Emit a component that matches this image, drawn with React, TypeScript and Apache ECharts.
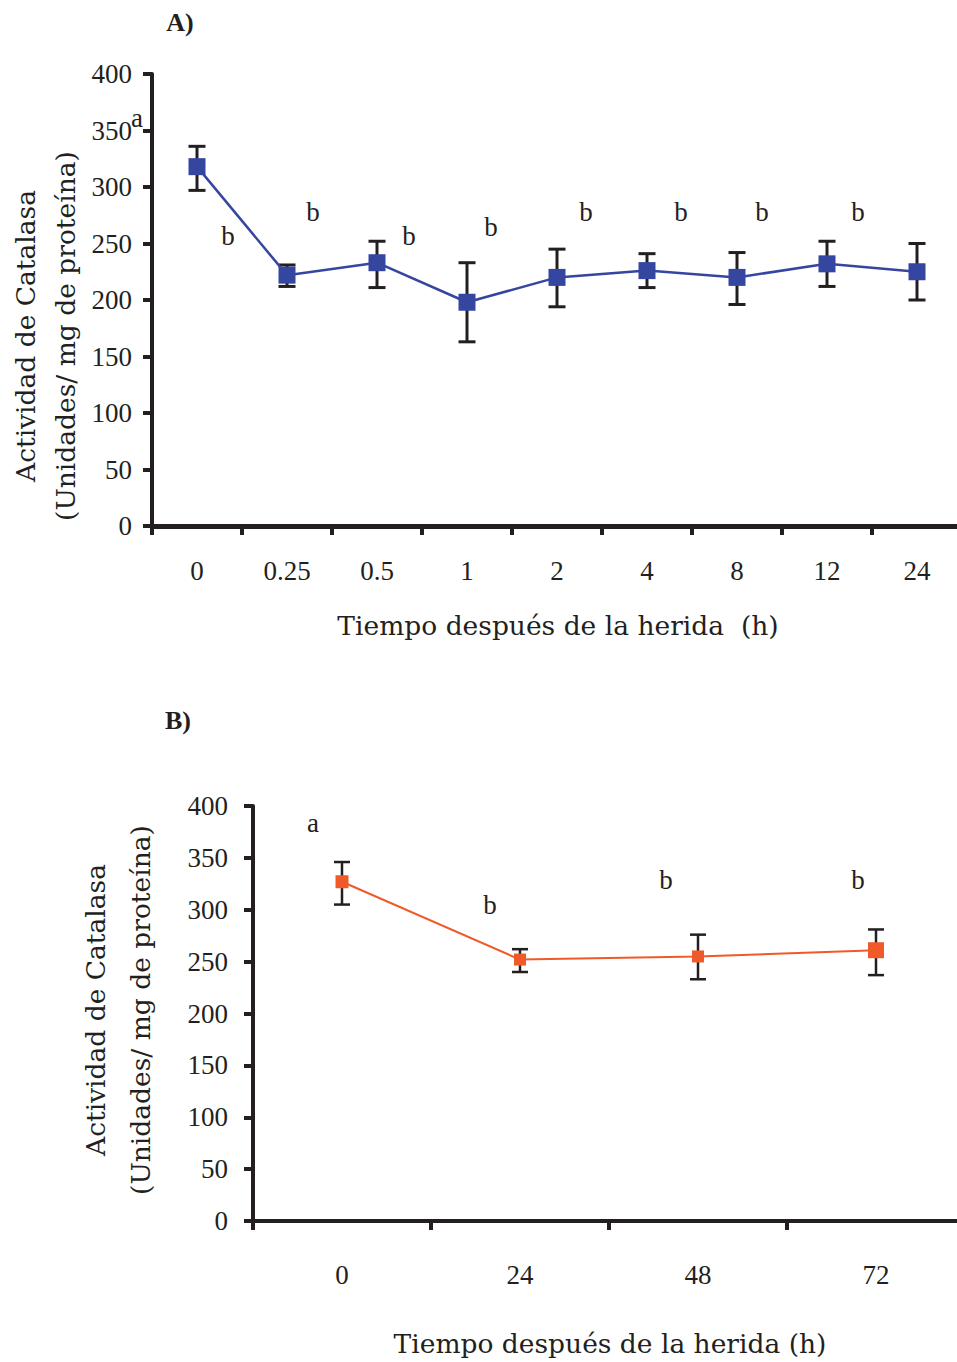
import React, { useEffect, useRef } from "react";
import * as echarts from "echarts";

// Panel A data
const catsA = ["0", "0.25", "0.5", "1", "2", "4", "8", "12", "24"];
const meanA = [318, 222, 233, 198, 220, 226, 220, 232, 225];
const lowA = [297, 212, 211, 163, 194, 211, 196, 212, 200];
const highA = [336, 231, 252, 233, 245, 241, 242, 252, 250];
const lettersA = ["a", "b", "b", "b", "b", "b", "b", "b", "b"];

// Panel B data
const catsB = ["0", "24", "48", "72"];
const meanB = [327, 252, 255, 261];
const lowB = [305, 240, 233, 237];
const highB = [346, 262, 276, 281];
const lettersB = ["a", "b", "b", "b"];

// Layout (pixel positions of annotation letters)
const letterPosA = [[137, 118], [228, 236], [313, 212], [409, 236], [491, 227], [586, 212], [681, 212], [762, 212], [858, 212]];
const letterPosB = [[313, 823], [490, 905], [666, 880], [858, 880]];
const markerSizeB = [13, 12, 12, 16];

const FONT = "'Palatino Linotype', 'Book Antiqua', Palatino, 'Liberation Serif', serif";
const TFONT = "'Palatino Linotype', 'Book Antiqua', Palatino, 'DejaVu Serif', serif";
const INK = "#231f20";
const BLUE = "#3546a0";
const ORANGE = "#f05a28";

function errorSeries(low: number[], high: number[], idx: number, lw: number, hw: number) {
  return {
    type: "custom",
    xAxisIndex: idx,
    yAxisIndex: idx,
    silent: true,
    z: 1,
    data: low.map((l, i) => [i, l, high[i]]),
    encode: { x: 0, y: [1, 2] },
    renderItem: (params: any, api: any) => {
      const x = api.value(0);
      const pLo = api.coord([x, api.value(1)]);
      const pHi = api.coord([x, api.value(2)]);
      const style = { stroke: INK, lineWidth: lw, fill: "none" };
      return {
        type: "group",
        children: [
          { type: "line", shape: { x1: pLo[0], y1: pLo[1], x2: pHi[0], y2: pHi[1] }, style },
          { type: "line", shape: { x1: pLo[0] - hw, y1: pLo[1], x2: pLo[0] + hw, y2: pLo[1] }, style },
          { type: "line", shape: { x1: pHi[0] - hw, y1: pHi[1], x2: pHi[0] + hw, y2: pHi[1] }, style },
        ],
      };
    },
  };
}

function yAxis(idx: number, axisW: number, margin: number) {
  return {
    type: "value",
    gridIndex: idx,
    min: 0,
    max: 400,
    interval: 50,
    splitLine: { show: false },
    axisLine: { show: true, lineStyle: { color: INK, width: axisW } },
    axisTick: { show: true, inside: false, length: 9, lineStyle: { color: INK, width: axisW } },
    axisLabel: { color: INK, fontSize: 27, fontFamily: FONT, margin },
  };
}

function xAxis(idx: number, cats: string[], axisW: number, margin: number) {
  return {
    type: "category",
    gridIndex: idx,
    data: cats,
    boundaryGap: true,
    axisLine: { show: true, onZero: false, lineStyle: { color: INK, width: axisW } },
    axisTick: { show: true, inside: false, alignWithLabel: false, length: 9, lineStyle: { color: INK, width: 4 } },
    axisLabel: { color: INK, fontSize: 27, fontFamily: FONT, margin, interval: 0 },
    splitLine: { show: false },
  };
}

function txt(x: number, y: number, text: string, extra: any = {}) {
  return {
    type: "text",
    x,
    y,
    z: 10,
    style: {
      text,
      fill: INK,
      font: `27px ${FONT}`,
      textAlign: "center",
      textVerticalAlign: "middle",
      ...extra,
    },
  };
}

export default function App() {
  const ref = useRef<HTMLDivElement>(null);
  useEffect(() => {
    document.body.style.margin = "0";
    if (!ref.current) return;
    const chart = echarts.init(ref.current, null, { renderer: "svg" });
    const graphics: any[] = [];
    graphics.push(txt(180, 22, "A)", { font: `bold 26px ${FONT}` }));
    graphics.push(txt(178, 720, "B)", { font: `bold 26px ${FONT}` }));
    lettersA.forEach((l, i) => graphics.push(txt(letterPosA[i][0], letterPosA[i][1], l)));
    lettersB.forEach((l, i) => graphics.push(txt(letterPosB[i][0], letterPosB[i][1], l)));
    graphics.push(txt(558, 625, "Tiempo después de la herida  (h)", { font: `26.5px ${TFONT}` }));
    graphics.push(txt(610, 1343, "Tiempo después de la herida (h)", { font: `26.5px ${TFONT}` }));
    graphics.push({
      ...txt(45, 336, "Actividad de Catalasa\n(Unidades/ mg de proteína)", { font: `26.5px ${TFONT}`, lineHeight: 40 }),
      rotation: Math.PI / 2,
    });
    graphics.push({
      ...txt(118, 1010, "Actividad de Catalasa\n(Unidades/ mg de proteína)", { font: `26.5px ${TFONT}`, lineHeight: 45 }),
      rotation: Math.PI / 2,
    });

    chart.setOption({
      animation: false,
      backgroundColor: "#ffffff",
      textStyle: { fontFamily: FONT },
      grid: [
        { left: 152, width: 810, top: 74, height: 452, containLabel: false, outerBoundsMode: "none" },
        { left: 253, width: 712, top: 806, height: 415, containLabel: false, outerBoundsMode: "none" },
      ],
      xAxis: [xAxis(0, catsA, 5, 31), xAxis(1, catsB, 4, 40)],
      yAxis: [yAxis(0, 4, 20), yAxis(1, 4, 25)],
      graphic: graphics,
      series: [
        errorSeries(lowA, highA, 0, 3, 8.5),
        {
          type: "line",
          name: "A",
          xAxisIndex: 0,
          yAxisIndex: 0,
          z: 3,
          data: meanA,
          symbol: "rect",
          symbolSize: 17,
          lineStyle: { color: BLUE, width: 2.5 },
          itemStyle: { color: BLUE },
        },
        errorSeries(lowB, highB, 1, 2.5, 8),
        {
          type: "line",
          name: "B",
          xAxisIndex: 1,
          yAxisIndex: 1,
          z: 3,
          data: meanB.map((v, i) => ({ value: v, symbolSize: markerSizeB[i] })),
          symbol: "rect",
          lineStyle: { color: ORANGE, width: 2 },
          itemStyle: { color: ORANGE },
        },
      ],
    });
    return () => chart.dispose();
  }, []);
  return <div ref={ref} style={{ width: 957, height: 1362 }} />;
}
